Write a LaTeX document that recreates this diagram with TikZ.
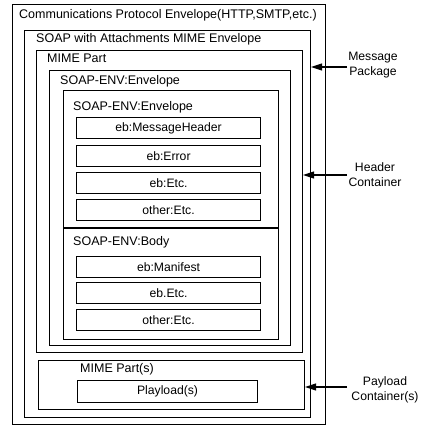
\documentclass[tikz,border=0pt]{standalone}
\usepackage{fontspec}
\setmainfont{Liberation Sans}
\usetikzlibrary{arrows.meta}
\begin{document}
\begin{tikzpicture}[x=1pt,y=-1pt,
  box/.style={draw,line width=1.1pt,inner sep=0pt,anchor=north west},
  lab/.style={inner sep=0pt,anchor=west,font=\fontsize{12.5}{14.5}\selectfont},
  itemtxt/.style={font=\fontsize{12.2}{14.5}\selectfont},
  side/.style={inner sep=0pt,align=center,font=\fontsize{12.2}{15}\selectfont},
  arr/.style={line width=1.1pt,-{Triangle[length=11pt,width=7pt]}}]
\useasboundingbox (0,0) rectangle (421,428);
% containers
\node[box,minimum width=313pt,minimum height=420pt] (outer) at (12,4) {};
\node[box,minimum width=286pt,minimum height=387pt] (soapatt) at (24,30) {};
\node[box,minimum width=266pt,minimum height=302pt] (mimepart) at (36,50) {};
\node[box,minimum width=241pt,minimum height=275pt] (envout) at (49,70) {};
\node[box,minimum width=215pt,minimum height=249pt] (envin) at (63,90) {};
\node[box,minimum width=266pt,minimum height=49pt] (mimeparts) at (38,360) {};
% header items
\node[box,minimum width=184pt,minimum height=21pt] (h1) at (76,117) {};
\node[itemtxt] (h1t) at (h1.center) {eb:MessageHeader};
\node[box,minimum width=184pt,minimum height=21pt] (h2) at (76,145) {};
\node[itemtxt] (h2t) at (h2.center) {eb:Error};
\node[box,minimum width=184pt,minimum height=21pt] (h3) at (76,172) {};
\node[itemtxt] (h3t) at (h3.center) {eb:Etc.};
\node[box,minimum width=184pt,minimum height=21pt] (h4) at (76,199) {};
\node[itemtxt] (h4t) at (h4.center) {other:Etc.};
% separator
\coordinate (sepL) at (63,228);
\draw[line width=1.1pt] (sepL) -- (sepL -| envin.east);
% body items
\node[box,minimum width=184pt,minimum height=21pt] (b1) at (76,256) {};
\node[itemtxt] (b1t) at (b1.center) {eb:Manifest};
\node[box,minimum width=184pt,minimum height=21pt] (b2) at (76,282) {};
\node[itemtxt] (b2t) at (b2.center) {eb.Etc.};
\node[box,minimum width=184pt,minimum height=21pt] (b3) at (76,309) {};
\node[itemtxt] (b3t) at (b3.center) {other:Etc.};
\node[box,minimum width=180pt,minimum height=22pt] (pay) at (77,380) {};
\node[itemtxt] (payt) at (pay.center) {Playload(s)};
% labels
\node[lab] (l1) at (19,15) {Communications Protocol Envelope(HTTP,SMTP,etc.)};
\node[lab] (l2) at (36,39) {SOAP with Attachments MIME Envelope};
\node[lab] (l3) at (47,58) {MIME Part};
\node[lab] (l4) at (60,81) {SOAP-ENV:Envelope};
\node[lab] (l5) at (73,107) {SOAP-ENV:Envelope};
\node[lab] (l6) at (73,242) {SOAP-ENV:Body};
\node[lab] (l7) at (80,369) {MIME Part(s)};
% side labels
\node[side] (s1) at (373,65) {Message\\Package};
\node[side] (s2) at (375,175) {Header\\Container};
\node[side] (s3) at (385,390) {Payload\\Container(s)};
\coordinate (a1) at (347,67);
\coordinate (a2) at (347,175);
\coordinate (a3) at (347,387);
\draw[arr] (a1) -- (a1 -| soapatt.east);
\draw[arr] (a2) -- (a2 -| mimepart.east);
\draw[arr] (a3) -- (a3 -| mimeparts.east);
\end{tikzpicture}
\end{document}
